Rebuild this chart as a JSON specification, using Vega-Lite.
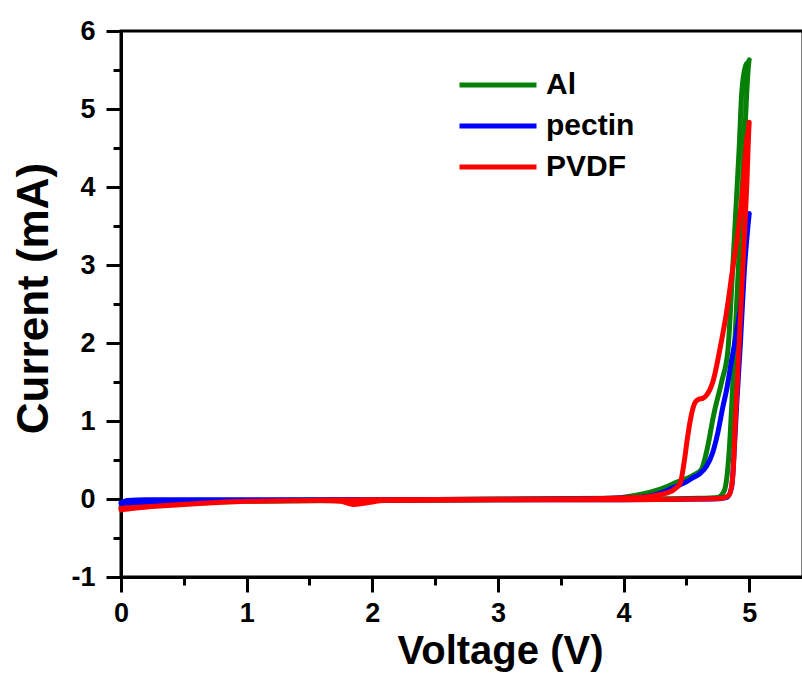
{
  "$schema": "https://vega.github.io/schema/vega-lite/v6.json",
  "autosize": "none",
  "padding": {"left": 121, "top": 31, "right": 0, "bottom": 102},
  "width": 682,
  "height": 546,
  "background": "white",
  "config": {
    "view": {"stroke": "black", "strokeWidth": 3},
    "font": "Liberation Sans",
    "axis": {"labelFont": "Liberation Sans", "titleFont": "Liberation Sans", "labelFontWeight": "bold", "titleFontWeight": "bold", "labelColor": "black", "titleColor": "black", "domainColor": "black", "grid": false}
  },
  "data": {"values": [
    {"s":"Al","o":1,"V":0,"I":-0.12},{"s":"Al","o":2,"V":0.1,"I":-0.09},{"s":"Al","o":3,"V":0.3,"I":-0.07},{"s":"Al","o":4,"V":0.6,"I":-0.05},{"s":"Al","o":5,"V":1.0,"I":-0.03},{"s":"Al","o":6,"V":2.0,"I":-0.02},{"s":"Al","o":7,"V":3.0,"I":-0.01},{"s":"Al","o":8,"V":4.0,"I":0.0},{"s":"Al","o":9,"V":4.6,"I":0.01},{"s":"Al","o":10,"V":4.75,"I":0.02},{"s":"Al","o":11,"V":4.8,"I":0.1},{"s":"Al","o":12,"V":4.84,"I":0.6},{"s":"Al","o":13,"V":4.87,"I":1.5},{"s":"Al","o":14,"V":4.9,"I":2.5},{"s":"Al","o":15,"V":4.93,"I":3.5},{"s":"Al","o":16,"V":4.96,"I":4.5},{"s":"Al","o":17,"V":4.98,"I":5.2},{"s":"Al","o":18,"V":5.0,"I":5.63},
    {"s":"Al","o":19,"V":4.97,"I":5.55},{"s":"Al","o":20,"V":4.94,"I":5.2},{"s":"Al","o":21,"V":4.92,"I":4.5},{"s":"Al","o":22,"V":4.89,"I":3.6},{"s":"Al","o":23,"V":4.86,"I":2.7},{"s":"Al","o":24,"V":4.83,"I":1.9},{"s":"Al","o":25,"V":4.78,"I":1.5},{"s":"Al","o":26,"V":4.72,"I":1.1},{"s":"Al","o":27,"V":4.66,"I":0.6},{"s":"Al","o":28,"V":4.62,"I":0.38},{"s":"Al","o":29,"V":4.55,"I":0.3},{"s":"Al","o":30,"V":4.43,"I":0.22},{"s":"Al","o":31,"V":4.3,"I":0.13},{"s":"Al","o":32,"V":4.1,"I":0.05},{"s":"Al","o":33,"V":3.9,"I":0.01},{"s":"Al","o":34,"V":3.0,"I":0.0},{"s":"Al","o":35,"V":2.0,"I":-0.01},{"s":"Al","o":36,"V":1.0,"I":-0.02},{"s":"Al","o":37,"V":0.5,"I":-0.05},{"s":"Al","o":38,"V":0.2,"I":-0.08},{"s":"Al","o":39,"V":0.0,"I":-0.1},
    {"s":"pectin","o":1,"V":0,"I":-0.05},{"s":"pectin","o":2,"V":0.05,"I":-0.02},{"s":"pectin","o":3,"V":0.2,"I":-0.01},{"s":"pectin","o":4,"V":0.5,"I":-0.01},{"s":"pectin","o":5,"V":1.0,"I":-0.01},{"s":"pectin","o":6,"V":2.0,"I":-0.01},{"s":"pectin","o":7,"V":3.0,"I":-0.01},{"s":"pectin","o":8,"V":4.0,"I":-0.01},{"s":"pectin","o":9,"V":4.7,"I":0.0},{"s":"pectin","o":10,"V":4.82,"I":0.02},{"s":"pectin","o":11,"V":4.86,"I":0.15},{"s":"pectin","o":12,"V":4.88,"I":0.6},{"s":"pectin","o":13,"V":4.9,"I":1.2},{"s":"pectin","o":14,"V":4.93,"I":2.0},{"s":"pectin","o":15,"V":4.96,"I":2.9},{"s":"pectin","o":16,"V":4.99,"I":3.5},{"s":"pectin","o":17,"V":5.0,"I":3.66},
    {"s":"pectin","o":18,"V":4.97,"I":3.3},{"s":"pectin","o":19,"V":4.94,"I":2.6},{"s":"pectin","o":20,"V":4.9,"I":2.15},{"s":"pectin","o":21,"V":4.86,"I":1.78},{"s":"pectin","o":22,"V":4.82,"I":1.4},{"s":"pectin","o":23,"V":4.79,"I":1.18},{"s":"pectin","o":24,"V":4.75,"I":0.85},{"s":"pectin","o":25,"V":4.71,"I":0.6},{"s":"pectin","o":26,"V":4.66,"I":0.42},{"s":"pectin","o":27,"V":4.61,"I":0.33},{"s":"pectin","o":28,"V":4.55,"I":0.27},{"s":"pectin","o":29,"V":4.5,"I":0.22},{"s":"pectin","o":30,"V":4.4,"I":0.15},{"s":"pectin","o":31,"V":4.3,"I":0.08},{"s":"pectin","o":32,"V":4.1,"I":0.02},{"s":"pectin","o":33,"V":3.5,"I":0.0},{"s":"pectin","o":34,"V":2.0,"I":-0.01},{"s":"pectin","o":35,"V":1.0,"I":-0.02},{"s":"pectin","o":36,"V":0.4,"I":-0.05},{"s":"pectin","o":37,"V":0.15,"I":-0.07},{"s":"pectin","o":38,"V":0.0,"I":-0.06},
    {"s":"PVDF","o":1,"V":0,"I":-0.14},{"s":"PVDF","o":2,"V":0.1,"I":-0.12},{"s":"PVDF","o":3,"V":0.3,"I":-0.09},{"s":"PVDF","o":4,"V":0.6,"I":-0.06},{"s":"PVDF","o":5,"V":1.0,"I":-0.03},{"s":"PVDF","o":6,"V":1.6,"I":-0.02},{"s":"PVDF","o":7,"V":1.75,"I":-0.03},{"s":"PVDF","o":8,"V":1.85,"I":-0.07},{"s":"PVDF","o":9,"V":1.95,"I":-0.05},{"s":"PVDF","o":10,"V":2.1,"I":-0.02},{"s":"PVDF","o":11,"V":3.0,"I":-0.01},{"s":"PVDF","o":12,"V":4.0,"I":-0.01},{"s":"PVDF","o":13,"V":4.6,"I":0.0},{"s":"PVDF","o":14,"V":4.78,"I":0.01},{"s":"PVDF","o":15,"V":4.84,"I":0.05},{"s":"PVDF","o":16,"V":4.87,"I":0.3},{"s":"PVDF","o":17,"V":4.89,"I":1.0},{"s":"PVDF","o":18,"V":4.92,"I":2.0},{"s":"PVDF","o":19,"V":4.95,"I":3.0},{"s":"PVDF","o":20,"V":4.98,"I":4.0},{"s":"PVDF","o":21,"V":5.0,"I":4.83},
    {"s":"PVDF","o":22,"V":4.98,"I":4.6},{"s":"PVDF","o":23,"V":4.95,"I":4.0},{"s":"PVDF","o":24,"V":4.91,"I":3.4},{"s":"PVDF","o":25,"V":4.87,"I":2.97},{"s":"PVDF","o":26,"V":4.82,"I":2.4},{"s":"PVDF","o":27,"V":4.77,"I":1.95},{"s":"PVDF","o":28,"V":4.71,"I":1.5},{"s":"PVDF","o":29,"V":4.66,"I":1.33},{"s":"PVDF","o":30,"V":4.63,"I":1.29},{"s":"PVDF","o":31,"V":4.6,"I":1.28},{"s":"PVDF","o":32,"V":4.57,"I":1.24},{"s":"PVDF","o":33,"V":4.53,"I":1.0},{"s":"PVDF","o":34,"V":4.51,"I":0.8},{"s":"PVDF","o":35,"V":4.48,"I":0.45},{"s":"PVDF","o":36,"V":4.45,"I":0.2},{"s":"PVDF","o":37,"V":4.4,"I":0.12},{"s":"PVDF","o":38,"V":4.3,"I":0.06},{"s":"PVDF","o":39,"V":4.1,"I":0.02},{"s":"PVDF","o":40,"V":3.5,"I":0.0},{"s":"PVDF","o":41,"V":2.0,"I":-0.01},{"s":"PVDF","o":42,"V":1.0,"I":-0.03},{"s":"PVDF","o":43,"V":0.5,"I":-0.07},{"s":"PVDF","o":44,"V":0.2,"I":-0.1},{"s":"PVDF","o":45,"V":0.0,"I":-0.12}
  ]},
  "mark": {"type": "line", "strokeWidth": 5, "interpolate": "monotone", "strokeCap": "round", "strokeJoin": "round"},
  "encoding": {
    "x": {"field": "V", "type": "quantitative", "scale": {"domain": [0, 5.428], "nice": false, "zero": false},
      "axis": {"orient": "bottom", "values": [0,0.5,1,1.5,2,2.5,3,3.5,4,4.5,5], "labelExpr": "datum.value % 1 === 0 ? '' + datum.value : ''", "title": "Voltage (V)", "titleFontSize": 40, "titleX": 379, "titleY": 86, "titleBaseline": "alphabetic", "titleAlign": "center", "labelFontSize": 27, "labelPadding": 8, "labelFlushOffset": 7.5, "tickColor": {"condition": {"test": "datum.value % 1 === 0", "value": "#000000"}, "value": "#000000"}, "tickSize": {"condition": {"test": "datum.value % 1 === 0", "value": 15}, "value": 8}, "tickWidth": 3, "domainWidth": 3}},
    "y": {"field": "I", "type": "quantitative", "scale": {"domain": [-1, 6], "nice": false, "zero": false},
      "axis": {"orient": "left", "values": [-1,-0.5,0,0.5,1,1.5,2,2.5,3,3.5,4,4.5,5,5.5,6], "labelExpr": "datum.value % 1 === 0 ? '' + datum.value : ''", "title": "Current (mA)", "titleFontSize": 44, "titleX": -74, "titleY": 267, "titleAngle": -90, "titleBaseline": "alphabetic", "titleAlign": "center", "labelFontSize": 27, "labelPadding": 11, "tickColor": {"condition": {"test": "datum.value % 1 === 0", "value": "#000000"}, "value": "#000000"}, "tickSize": {"condition": {"test": "datum.value % 1 === 0", "value": 15}, "value": 8}, "tickWidth": 3, "domainWidth": 3}},
    "color": {"field": "s", "type": "nominal", "scale": {"domain": ["Al", "pectin", "PVDF"], "range": ["#078007", "#0000ff", "#ff0000"]},
      "legend": {"title": null, "orient": "none", "legendX": 362, "legendY": 39, "symbolType": "M-3.85,0H3.85", "symbolSize": 400, "symbolStrokeWidth": 5, "labelFontSize": 30, "labelFontWeight": "bold", "labelFont": "Liberation Sans", "labelColor": "black", "labelOffset": 33, "rowPadding": 11}},
    "order": {"field": "o", "type": "quantitative"}
  }
}
